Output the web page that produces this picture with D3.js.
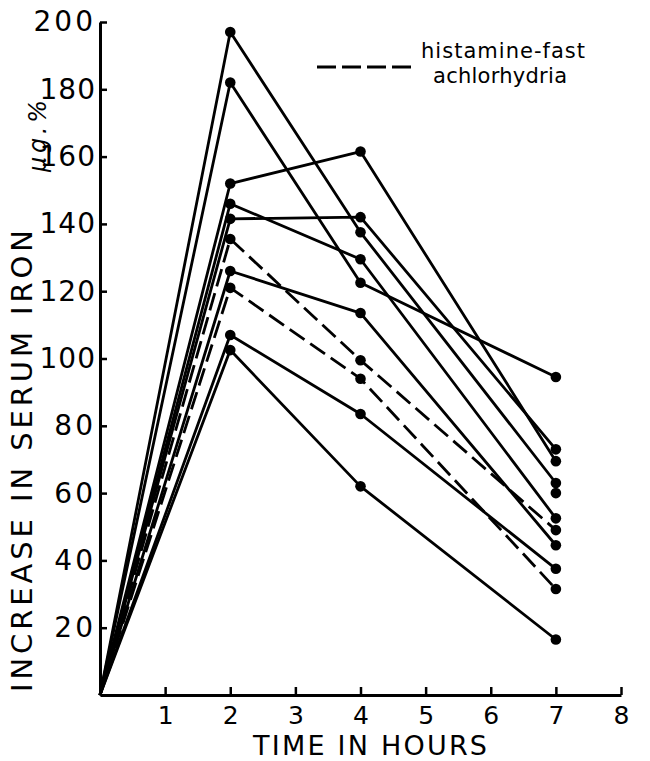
<!DOCTYPE html>
<html>
<head>
<meta charset="utf-8">
<script src="https://cdn.jsdelivr.net/npm/d3@7"></script>
<style>
  html, body { margin: 0; padding: 0; background: #fff; }
  svg { display: block; }
  text { font-family: "DejaVu Sans", sans-serif; fill: #000; }
</style>
</head>
<body>
<svg id="chart" width="650" height="761"></svg>
<script>
// Sampling times (hours) after the oral iron dose
const hours = [0, 2, 4, 7];

// Rise in serum iron (µg./100 ml) for each subject at 2, 4 and 7 hours
const iron2h = [197, 182, 152, 146, 141.5, 135.5, 126, 121, 107, 102.5];
const iron4h = [137.5, 122.5, 161.5, 129.5, 142, 99.5, 113.5, 94, 83.5, 62];
const iron7h = [63, 94.5, 69.5, 52.5, 73, 49, 44.5, 31.5, 37.5, 16.5];

// Subjects with histamine-fast achlorhydria (drawn dashed)
const achlorhydria = [false, false, false, false, false, true, false, true, false, false];

// Single reading at 7 hours with no connecting line
const lone7h = [60];

// Axis ticks
const yTicks = [20, 40, 60, 80, 100, 120, 140, 160, 180, 200];
const xTicks = [1, 2, 3, 4, 5, 6, 7, 8];

const svg = d3.select("#chart");

const x = d3.scaleLinear().domain([0, 8]).range([100, 621]);
const y = d3.scaleLinear().domain([0, 200]).range([695, 22]);

// ----- axes -----
const yAxis = d3.axisLeft(y)
  .tickValues(yTicks)
  .tickSize(-7)
  .tickSizeOuter(0)
  .tickPadding(4)
  .tickFormat(d3.format("d"));

const gy = svg.append("g")
  .attr("transform", `translate(${x(0)},0)`)
  .call(yAxis);
gy.select(".domain").attr("stroke", "#000").attr("stroke-width", 3);
gy.selectAll(".tick line").attr("stroke", "#000").attr("stroke-width", 2.5);
gy.selectAll(".tick text")
  .attr("font-size", 28)
  .attr("letter-spacing", d => d >= 100 && d < 200 ? 1 : 3)
  .attr("font-family", "DejaVu Sans, sans-serif")
  .attr("fill", "#000");

const xAxis = d3.axisBottom(x)
  .tickValues(xTicks)
  .tickSize(-8)
  .tickSizeOuter(0)
  .tickPadding(11)
  .tickFormat(d3.format("d"));

const gx = svg.append("g")
  .attr("transform", `translate(0,${y(0)})`)
  .call(xAxis);
gx.select(".domain").attr("stroke", "#000").attr("stroke-width", 3);
gx.selectAll(".tick line").attr("stroke", "#000").attr("stroke-width", 2.5);
gx.selectAll(".tick text")
  .attr("font-size", 25)
  .attr("font-family", "DejaVu Sans, sans-serif")
  .attr("fill", "#000");

// ----- axis titles -----
svg.append("text")
  .attr("x", 253)
  .attr("y", 755)
  .attr("font-size", 27)
  .attr("textLength", 234)
  .attr("lengthAdjust", "spacing")
  .text("TIME IN HOURS");

svg.append("text")
  .attr("transform", "translate(32,692) rotate(-90)")
  .attr("font-size", 29)
  .attr("textLength", 462)
  .attr("lengthAdjust", "spacing")
  .text("INCREASE IN SERUM IRON");

svg.append("text")
  .attr("transform", "translate(46,172) rotate(-90)")
  .attr("font-size", 24)
  .attr("font-style", "italic")
  .attr("textLength", 72)
  .attr("lengthAdjust", "spacing")
  .text("µg.%");

// ----- subject curves -----
const line = d3.line()
  .x(d => x(d[0]))
  .y(d => y(d[1]));

const subjects = iron2h.map((v, i) => ({
  dashed: achlorhydria[i],
  pts: [[hours[0], 0], [hours[1], v], [hours[2], iron4h[i]], [hours[3], iron7h[i]]]
}));

const g = svg.append("g");

g.selectAll("path.subject")
  .data(subjects)
  .join("path")
  .attr("class", "subject")
  .attr("d", d => line(d.pts))
  .attr("fill", "none")
  .attr("stroke", "#000")
  .attr("stroke-width", 2.8)
  .attr("stroke-linejoin", "round")
  .attr("stroke-dasharray", d => d.dashed ? "18,7" : null);

const dots = subjects.flatMap(s => s.pts.slice(1))
  .concat(lone7h.map(v => [hours[3], v]));

g.selectAll("circle.dot")
  .data(dots)
  .join("circle")
  .attr("class", "dot")
  .attr("cx", d => x(d[0]))
  .attr("cy", d => y(d[1]))
  .attr("r", 5.3)
  .attr("fill", "#000");

// ----- legend -----
const lg = svg.append("g");
lg.append("line")
  .attr("x1", 317).attr("x2", 411)
  .attr("y1", 67).attr("y2", 67)
  .attr("stroke", "#000")
  .attr("stroke-width", 2.8)
  .attr("stroke-dasharray", "19,6");
lg.append("text")
  .attr("x", 421).attr("y", 58)
  .attr("font-size", 21)
  .attr("textLength", 164)
  .attr("lengthAdjust", "spacing")
  .text("histamine-fast");
lg.append("text")
  .attr("x", 433).attr("y", 83)
  .attr("font-size", 21)
  .attr("textLength", 134)
  .attr("lengthAdjust", "spacing")
  .text("achlorhydria");
</script>
</body>
</html>
